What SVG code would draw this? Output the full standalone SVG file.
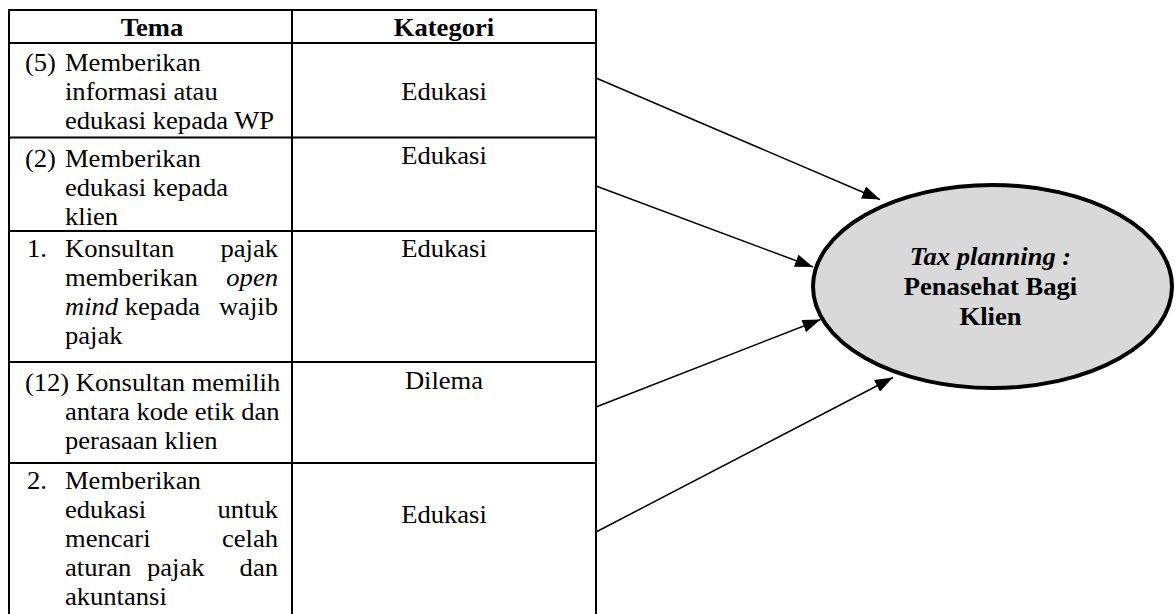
<svg xmlns="http://www.w3.org/2000/svg" width="1176" height="614" viewBox="0 0 1176 614">
  <style>
    .grid { stroke: #000; stroke-width: 2; fill: none; }
    text { font-family: 'Liberation Serif', 'Times New Roman', 'DejaVu Serif', serif; font-size: 24.5px; fill: #000; }
    .b { font-weight: bold; }
    .i { font-style: italic; }
    .mid { text-anchor: middle; }
    .end { text-anchor: end; }
    .conn { stroke: #000; stroke-width: 1.5; fill: none; marker-end: url(#head); }
  </style>
  <defs>
    <marker id="head" markerUnits="userSpaceOnUse" markerWidth="19" markerHeight="13" refX="18" refY="6.5" orient="auto">
      <path d="M0,0 L18,6.5 L0,13 z" fill="#000"/>
    </marker>
  </defs>
  <rect width="1176" height="614" fill="#fff"/>

  <!-- table grid -->
  <g id="table" class="grid">
    <line x1="9" y1="614" x2="9" y2="9"/>
    <line x1="292" y1="9" x2="292" y2="614"/>
    <line x1="596" y1="9" x2="596" y2="614"/>
    <line x1="8" y1="10" x2="597" y2="10"/>
    <line x1="8" y1="43" x2="597" y2="43"/>
    <line x1="8" y1="137.5" x2="597" y2="137.5"/>
    <line x1="8" y1="231" x2="597" y2="231"/>
    <line x1="8" y1="362" x2="597" y2="362"/>
    <line x1="8" y1="463" x2="597" y2="463"/>
  </g>

  <!-- header row (text slightly widened horizontally) -->
  <g id="header">
    <g transform="scale(1.085 1)">
      <text class="b mid" x="140.1" y="36">Tema</text>
      <text class="b mid" x="409.2" y="36">Kategori</text>
    </g>
  </g>

  <g id="row-1">
    <g transform="scale(1.085 1)">
      <text x="23" y="71">(5)</text>
      <text x="59.9" y="71">Memberikan</text>
      <text x="59.9" y="100">informasi atau</text>
      <text x="59.9" y="129">edukasi kepada WP</text>
      <text class="mid" x="409.2" y="100">Edukasi</text>
    </g>
  </g>

  <g id="row-2">
    <g transform="scale(1.085 1)">
      <text x="23" y="167">(2)</text>
      <text x="59.9" y="167">Memberikan</text>
      <text x="59.9" y="196">edukasi kepada</text>
      <text x="59.9" y="225">klien</text>
      <text class="mid" x="409.2" y="164">Edukasi</text>
    </g>
  </g>

  <g id="row-3">
    <g transform="scale(1.085 1)">
      <text x="24.9" y="257">1.</text>
      <text x="59.9" y="257">Konsultan</text>
      <text class="end" x="256.2" y="257">pajak</text>
      <text x="59.9" y="286">memberikan</text>
      <text class="i end" x="256.2" y="286">open</text>
      <text x="59.9" y="315"><tspan class="i">mind</tspan> kepada</text>
      <text class="end" x="256.2" y="315">wajib</text>
      <text x="59.9" y="344">pajak</text>
      <text class="mid" x="409.2" y="257">Edukasi</text>
    </g>
  </g>

  <g id="row-4">
    <g transform="scale(1.085 1)">
      <text x="23" y="391">(12) Konsultan memilih</text>
      <text x="59.9" y="420">antara kode etik dan</text>
      <text x="59.9" y="449">perasaan klien</text>
      <text class="mid" x="409.2" y="389">Dilema</text>
    </g>
  </g>

  <g id="row-5">
    <g transform="scale(1.085 1)">
      <text x="24.9" y="489">2.</text>
      <text x="59.9" y="489">Memberikan</text>
      <text x="59.9" y="518">edukasi</text>
      <text class="end" x="256.2" y="518">untuk</text>
      <text x="59.9" y="547">mencari</text>
      <text class="end" x="256.2" y="547">celah</text>
      <text x="59.9" y="576">aturan</text>
      <text x="135.5" y="576">pajak</text>
      <text class="end" x="256.2" y="576">dan</text>
      <text x="59.9" y="605">akuntansi</text>
      <text class="mid" x="409.2" y="523">Edukasi</text>
    </g>
  </g>

  <!-- target node -->
  <g id="tax-planning">
    <ellipse cx="992.5" cy="286.5" rx="179.5" ry="101.5" fill="#d9d9d9" stroke="#000" stroke-width="4"/>
    <g transform="scale(1.085 1)">
      <text class="b i mid" x="912.9" y="265">Tax planning :</text>
      <text class="b mid" x="912.9" y="295.5">Penasehat Bagi</text>
      <text class="b mid" x="912.9" y="325">Klien</text>
    </g>
  </g>

  <!-- connectors -->
  <g id="connectors">
    <line class="conn" x1="596" y1="78" x2="880" y2="199.5"/>
    <line class="conn" x1="596" y1="186" x2="813" y2="267"/>
    <line class="conn" x1="596" y1="407" x2="820.5" y2="319.5"/>
    <line class="conn" x1="596" y1="532" x2="893" y2="377.5"/>
  </g>
</svg>
